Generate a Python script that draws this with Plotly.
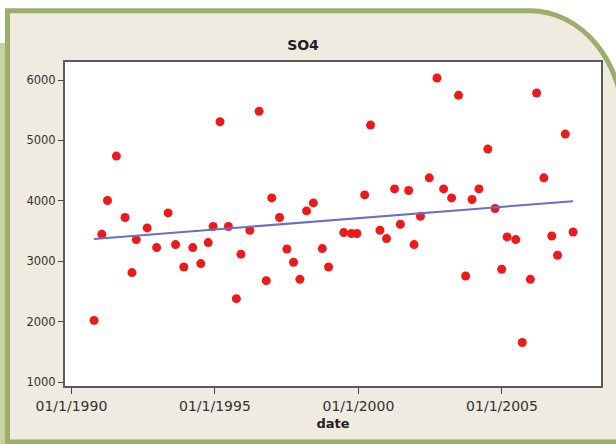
import plotly.graph_objects as go

# SO4 samples
dates = [
    "1990-10-16", "1991-01-23", "1991-04-05", "1991-07-27", "1991-11-14",
    "1992-02-10", "1992-04-05", "1992-08-22", "1992-12-20", "1993-05-15",
    "1993-08-18", "1993-12-01", "1994-03-25", "1994-07-05", "1994-10-08",
    "1994-12-09", "1995-03-07", "1995-06-21", "1995-10-01", "1995-11-28",
    "1996-03-20", "1996-07-16", "1996-10-15", "1996-12-24", "1997-04-02",
    "1997-07-05", "1997-09-27", "1997-12-17", "1998-03-12", "1998-06-07",
    "1998-09-28", "1998-12-17", "1999-06-28", "1999-10-05", "1999-12-13",
    "2000-03-21", "2000-06-03", "2000-10-01", "2000-12-24", "2001-04-05",
    "2001-06-18", "2001-10-01", "2001-12-09", "2002-02-28", "2002-06-21",
    "2002-09-27", "2002-12-20", "2003-04-01", "2003-06-28", "2003-09-27",
    "2003-12-17", "2004-03-14", "2004-07-05", "2004-10-05", "2004-12-28",
    "2005-03-07", "2005-06-25", "2005-09-16", "2005-12-28", "2006-03-18",
    "2006-06-18", "2006-09-27", "2006-12-09", "2007-03-18", "2007-06-25",
]
so4 = [
    2020, 3446, 4005, 4740, 3723,
    2811, 3358, 3551, 3226, 3800,
    3275, 2904, 3226, 2960, 3308,
    3574, 5309, 3574, 2380, 3117,
    3512, 5481, 2678, 4048, 3723,
    3202, 2982, 2700, 3833, 3965,
    3209, 2904, 3474, 3458, 3458,
    4098, 5254, 3512, 3375, 4197,
    3612, 4171, 3275, 3745, 4380,
    6033, 4197, 4048, 5746, 2756,
    4022, 4197, 4856, 3872, 2866,
    3402, 3358, 1655, 2700, 5784,
    4380, 3418, 3098, 5104, 3484,
]

# linear trend (endpoints)
trend_dates = ["1990-10-16", "2007-06-25"]
trend_values = [3368, 3993]

tick_dates = ["1990-01-01", "1995-01-01", "2000-01-01", "2005-01-01"]
tick_text = ["01/1/1990", "01/1/1995", "01/1/2000", "01/1/2005"]
y_ticks = [1000, 2000, 3000, 4000, 5000, 6000]

W, H = 616, 444
L, R, T, B = 65, 15, 62, 58
PW, PH = W - L - R, H - T - B

GREEN = "#9cad6c"
BEIGE = "#efebe0"
PALE_GREEN = "#c7d2a2"
FONT = "DejaVu Sans, Verdana, sans-serif"


def px(x):
    return (x - L) / PW


def py(y):
    return (H - B - y) / PH


def path(points_cmds):
    out = []
    for cmd, pts in points_cmds:
        coords = " ".join(f"{px(a):.5f},{py(b):.5f}" for a, b in pts)
        out.append(f"{cmd} {coords}")
    return " ".join(out) + " Z"


# panel outline with a rounded upper-right corner (quarter ellipse)
cx, top, rx, ry = 530, 10.8, 93, 112
k = 0.5523
frame_path = path([
    ("M", [(7.5, 442)]),
    ("L", [(7.5, top)]),
    ("L", [(cx, top)]),
    ("C", [(cx + k * rx, top), (cx + rx, top + ry - k * ry), (cx + rx, top + ry)]),
    ("L", [(cx + rx, 442)]),
])

fig = go.Figure()

fig.add_trace(go.Scatter(
    x=dates, y=so4, mode="markers",
    marker=dict(color="#ee1a1a", size=9, line=dict(width=0)),
    showlegend=False, hoverinfo="x+y",
))
fig.add_trace(go.Scatter(
    x=trend_dates, y=trend_values, mode="lines",
    line=dict(color="#6a6fc6", width=2),
    showlegend=False, hoverinfo="skip",
))

shapes = [
    # pale strip down the left edge
    dict(type="rect", xref="paper", yref="paper",
         x0=px(0), x1=px(5), y0=py(444), y1=py(43),
         fillcolor=PALE_GREEN, line=dict(width=0), layer="below"),
    # rounded panel
    dict(type="path", xref="paper", yref="paper", path=frame_path,
         fillcolor=BEIGE, line=dict(color=GREEN, width=5), layer="below"),
    # white plotting area
    dict(type="rect", xref="paper", yref="paper", x0=0, x1=1, y0=0, y1=1,
         fillcolor="white", line=dict(width=0), layer="below"),
]

fig.update_layout(
    width=W, height=H,
    margin=dict(l=L, r=R, t=T, b=B, pad=0),
    paper_bgcolor="white",
    plot_bgcolor="white",
    shapes=shapes,
    title=dict(text="<b>SO4</b>", x=303 / W, xanchor="center",
               y=1 - 45 / H, yanchor="middle",
               font=dict(family=FONT, size=14, color="#222")),
    font=dict(family=FONT, color="#333"),
)

fig.update_xaxes(
    type="date",
    range=["1989-10-11", "2008-06-14"],
    tickvals=tick_dates, ticktext=tick_text,
    ticks="outside", ticklen=6, tickwidth=1, tickcolor="#444",
    tickfont=dict(family=FONT, size=14, color="#333"),
    showgrid=False, zeroline=False,
    showline=True, linecolor="#5a5a5a", linewidth=2, mirror=True,
    title=dict(text="<b>date</b>", font=dict(family=FONT, size=13, color="#222"),
               standoff=6),
)
fig.update_yaxes(
    range=[934, 6298],
    tickvals=y_ticks,
    ticks="outside", ticklen=5, tickwidth=1, tickcolor="#444",
    tickfont=dict(family=FONT, size=11.5, color="#333"),
    showgrid=False, zeroline=False,
    showline=True, linecolor="#5a5a5a", linewidth=2, mirror=True,
)

fig.write_html("out.html")
